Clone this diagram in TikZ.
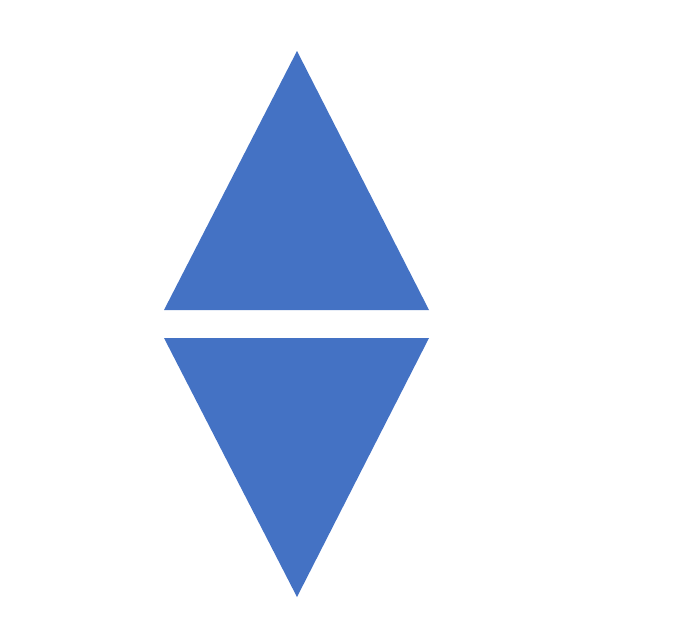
\documentclass[tikz,border=0pt]{standalone}
\definecolor{tblue}{HTML}{4472C4}
\tikzset{tri/.style={fill=tblue,draw=none}}
\begin{document}
\begin{tikzpicture}[x=0.02cm,y=-0.02cm]
\useasboundingbox (0,0) rectangle (690,639);
\fill[white] (0,0) rectangle (690,639);
\coordinate (ua) at (297,51);
\coordinate (ul) at (164,310);
\coordinate (ur) at (429,310);
\coordinate (ll) at (164,338);
\coordinate (lr) at (429,338);
\coordinate (la) at (297,597);
\path[tri] (ua) -- (ur) -- (ul) -- cycle;
\path[tri] (ll) -- (lr) -- (la) -- cycle;
\end{tikzpicture}
\end{document}
